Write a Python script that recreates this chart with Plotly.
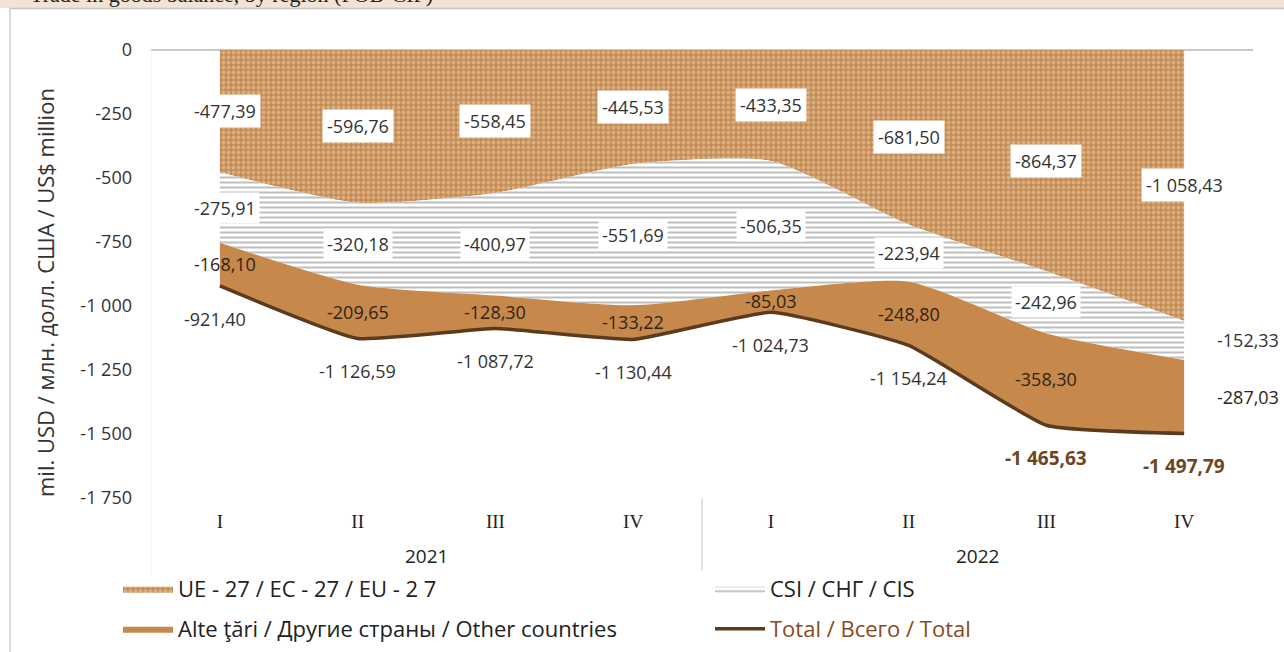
import plotly.graph_objects as go

# ---------------- data ----------------
years = ["2021", "2022"]
quarters = ["I", "II", "III", "IV", "I", "II", "III", "IV"]
eu = [-477.39, -596.76, -558.45, -445.53, -433.35, -681.50, -864.37, -1058.43]
cis = [-275.91, -320.18, -400.97, -551.69, -506.35, -223.94, -242.96, -152.33]
other = [-168.10, -209.65, -128.30, -133.22, -85.03, -248.80, -358.30, -287.03]
total = [-921.40, -1126.59, -1087.72, -1130.44, -1024.73, -1154.24, -1465.63, -1497.79]
yticks = [0, -250, -500, -750, -1000, -1250, -1500, -1750]

name_eu = "UE - 27 / EC - 27 / EU - 2 7"
name_cis = "CSI / СНГ / CIS"
name_other = "Alte ţări / Другие страны / Other countries"
name_total = "Total / Всего / Total"
y_title = "mil. USD / млн. долл. США / US$ million"
top_title = "Trade in goods balance, by region (FOB-CIF)"

FONT = "Open Sans, Liberation Sans, sans-serif"
SERIF = "Liberation Serif, DejaVu Serif, serif"


def fmt(v, dec=2):
    s = f"{abs(v):,.{dec}f}".replace(",", " ").replace(".", ",")
    return ("-" if v < 0 else "") + s


W, H = 1284, 652
ML, MR, MT, MB = 151, 31, 50, 154
PW, PH = W - ML - MR, H - MT - MB


def px_x(q):
    return (q - ML) / PW


def px_y(p):
    return (H - MB - p) / PH


x = list(range(len(quarters)))

fig = go.Figure()
fig.add_trace(go.Scatter(
    x=x, y=eu, name=name_eu, stackgroup="s", mode="lines",
    line=dict(width=0, shape="spline", smoothing=0.6, color="#c08450"),
    fillcolor="#c98f57",
    fillpattern=dict(shape=".", fgcolor="#ecd2b2", bgcolor="#c68c53", size=5, solidity=0.45),
    legend="legend", hoverinfo="skip"))
fig.add_trace(go.Scatter(
    x=x, y=cis, name=name_cis, stackgroup="s", mode="lines",
    line=dict(width=0, shape="spline", smoothing=0.6, color="#999999"),
    fillcolor="white",
    fillpattern=dict(shape="-", fgcolor="#7d7d7d", bgcolor="white", size=5, solidity=0.4),
    legend="legend", hoverinfo="skip"))
fig.add_trace(go.Scatter(
    x=x, y=other, name=name_other, stackgroup="s", mode="lines",
    line=dict(width=0, shape="spline", smoothing=0.6, color="#c7884b"),
    fillcolor="#c7884b",
    legend="legend2", hoverinfo="skip"))
fig.add_trace(go.Scatter(
    x=x, y=total, name=f'<span style="color:#8a4a1c">{name_total}</span>', mode="lines",
    line=dict(width=3.5, shape="spline", smoothing=0.4, color="#5b3a1e"),
    legend="legend2", hoverinfo="skip"))

ann = []
lab_font = dict(family=FONT, size=18, color="#333333")
for i in range(len(x)):
    xs = 5 if i == 0 else 0
    ann.append(dict(x=i, y=eu[i] / 2, text=fmt(eu[i]), showarrow=False, bgcolor="white",
                    borderpad=4, font=lab_font, xshift=xs))
    cs = 64 if i == len(x) - 1 else xs
    ann.append(dict(x=i, y=eu[i] + cis[i] / 2, text=fmt(cis[i]), showarrow=False, bgcolor="white",
                    borderpad=3, font=lab_font, xshift=cs))
    ann.append(dict(x=i, y=eu[i] + cis[i] + other[i] / 2, text=fmt(other[i]), showarrow=False,
                    font=dict(family=FONT, size=18, color="#2e2418"), xshift=cs))
    bold = i >= 6
    ann.append(dict(x=i, y=total[i], yshift=-33, xshift=(-5 if i == 0 else 0),
                    text=("<b>%s</b>" % fmt(total[i])) if bold else fmt(total[i]), showarrow=False,
                    font=dict(family=FONT, size=19 if bold else 18,
                              color="#6e4520" if bold else "#333333")))

for k, yr in enumerate(years):
    ann.append(dict(x=1.5 + 4 * k, y=px_y(556), yref="paper", yanchor="middle", text=yr,
                    showarrow=False, font=dict(family=FONT, size=19, color="#222222")))

ann.append(dict(x=px_x(45), xref="paper", xanchor="center", y=px_y(293), yref="paper",
                yanchor="middle", text=y_title, textangle=-90, showarrow=False,
                font=dict(family=FONT, size=22, color="#333333")))

ann.append(dict(x=px_x(28), xref="paper", xanchor="left", y=px_y(9), yref="paper", yanchor="bottom",
                text=top_title, showarrow=False, font=dict(family=SERIF, size=22, color="#222222")))

shapes = [
    dict(type="rect", xref="paper", yref="paper", x0=-0.2, x1=1.1, y0=px_y(8), y1=px_y(-20),
         fillcolor="#f2e3d4", line=dict(width=0), layer="below"),
    dict(type="line", xref="paper", yref="paper", x0=px_x(10), x1=1.1, y0=px_y(8.5), y1=px_y(8.5),
         line=dict(color="#c4c4c4", width=1.5)),
    dict(type="line", xref="paper", yref="paper", x0=px_x(10), x1=px_x(10), y0=px_y(8), y1=px_y(660),
         line=dict(color="#cfcfcf", width=1.5)),
    dict(type="line", xref="x", yref="paper", x0=3.5, x1=3.5, y0=0, y1=px_y(570),
         line=dict(color="#d9d9d9", width=1.5)),
    dict(type="line", xref="x", yref="paper", x0=-0.5, x1=-0.5, y0=1, y1=px_y(575),
         line=dict(color="#ececec", width=1)),
]

fig.update_layout(
    width=W, height=H,
    margin=dict(l=ML, r=MR, t=MT, b=MB, autoexpand=False),
    paper_bgcolor="white", plot_bgcolor="white",
    font=dict(family=FONT, size=18, color="#333333"),
    annotations=ann, shapes=shapes,
    xaxis=dict(range=[-0.5, 7.5], tickvals=x, ticktext=quarters, showgrid=False, zeroline=False,
               tickfont=dict(family=SERIF, size=19, color="#222222"), ticks="", ticklabelstandoff=10,
               showline=False, fixedrange=True),
    yaxis=dict(range=[-1750, 0], tickvals=yticks, ticktext=[fmt(v, 0) for v in yticks],
               showgrid=False, zeroline=True, zerolinecolor="#c9c9c9", zerolinewidth=1.5,
               tickfont=dict(family=FONT, size=18, color="#333333"), ticks="", ticklabelstandoff=18,
               showline=False, fixedrange=True),
    legend=dict(orientation="h", x=px_x(118), xanchor="left", y=px_y(568), yanchor="top",
                entrywidth=527, itemwidth=50, traceorder="normal", bgcolor="rgba(0,0,0,0)",
                font=dict(family=FONT, size=22, color="#222222")),
    legend2=dict(orientation="h", x=px_x(118), xanchor="left", y=px_y(608), yanchor="top",
                 entrywidth=527, itemwidth=50, traceorder="normal", bgcolor="rgba(0,0,0,0)",
                 font=dict(family=FONT, size=22, color="#222222")),
    showlegend=True,
)

fig.write_html("out.html", config=dict(displayModeBar=False),
               post_script="document.body.style.margin='0';document.body.style.padding='0';")
